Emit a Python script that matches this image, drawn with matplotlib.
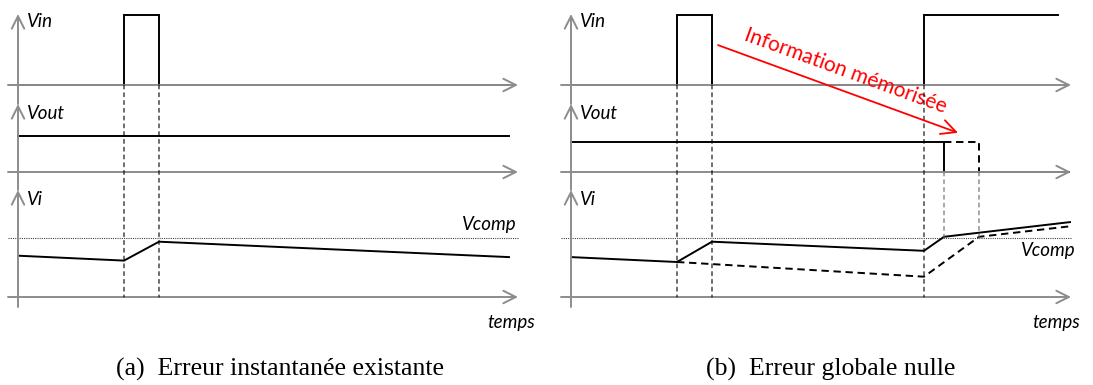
import matplotlib.pyplot as plt
from matplotlib.patches import ConnectionPatch

plt.rcParams["font.family"] = ["Lato", "DejaVu Sans"]

# (a) Erreur instantanée existante
vin_a_t = [0, 10.6, 10.6, 14.1, 14.1, 49.1]
vin_a = [0, 0, 1, 1, 0, 0]
vout_a_t = [0, 49.1]
vout_a = [0.51, 0.51]
vi_a_t = [0, 10.6, 14.1, 49.1]
vi_a = [0.59, 0.52, 0.79, 0.57]
guides_a = [10.6, 14.1]

# (b) Erreur globale nulle
vin_b_t = [0, 10.6, 10.6, 14.1, 14.1, 35.3, 35.3, 48.7]
vin_b = [0, 0, 1, 1, 0, 0, 1, 1]
vout_b_t = [0, 37.3, 37.3, 49.8]
vout_b = [0.43, 0.43, 0, 0]
vout_b_late_t = [37.3, 40.8, 40.8]
vout_b_late = [0.43, 0.43, 0]
vi_b_t = [0, 10.6, 14.1, 35.3, 37.3, 49.9]
vi_b = [0.57, 0.50, 0.79, 0.66, 0.86, 1.07]
vi_b_late_t = [10.6, 35.3, 40.8, 49.9]
vi_b_late = [0.50, 0.29, 0.86, 1.01]
guides_b = [10.6, 14.1, 35.3]
guides_b_vout = [37.3, 40.8]

vcomp = 0.85

# memorised-information arrow: start in the Vin row, end in the Vout row
memo_t = [14.7, 38.7]
memo_v = [0.57, 0.56]

# layout in pixels
FIG_W, FIG_H = 1093, 385
PX_T = 10
PX_V = 70
ORIGINS = [18, 571]
BASES = [85, 172, 297]
TIPS = [14, 104, 190]
AXIS_BOTTOM = 307

GREY = "#8c8c8c"
AXIS_ARROW = "->,head_length=0.6,head_width=0.3"


def row_axes(fig, x0, base):
    ax = fig.add_axes([(x0 - PX_T) / FIG_W, 1 - base / FIG_H,
                       51 * PX_T / FIG_W, PX_V / FIG_H])
    ax.set_xlim(-1, 50)
    ax.set_ylim(0, 1)
    ax.axis("off")
    return ax


def draw_frame(axes):
    for i, ax in enumerate(axes):
        base = BASES[i]
        tail = TIPS[i + 1] if i + 1 < len(TIPS) else AXIS_BOTTOM
        style = dict(arrowstyle=AXIS_ARROW, color=GREY, lw=1.4,
                     shrinkA=0, shrinkB=0, mutation_scale=15)
        ax.annotate("", xy=(50, 0), xytext=(-1, 0), arrowprops=style,
                    annotation_clip=False)
        ax.annotate("", xy=(0, (base - TIPS[i]) / PX_V),
                    xytext=(0, (base - tail) / PX_V), arrowprops=style,
                    annotation_clip=False)


def guide(fig, ax_a, ya, ax_b, yb, t, color="black"):
    con = ConnectionPatch(xyA=(t, ya), coordsA=ax_a.transData,
                          xyB=(t, yb), coordsB=ax_b.transData,
                          color=color, lw=0.8, linestyle=(0, (3.5, 3.5)))
    fig.add_artist(con)


def label(ax, t, v, s, ha="left"):
    ax.text(t, v, s, style="italic", fontsize=13.5, ha=ha, va="center")


fig = plt.figure(figsize=(FIG_W / 100, FIG_H / 100), dpi=100)

panels = []
for x0 in ORIGINS:
    panels.append([row_axes(fig, x0, b) for b in BASES])

sig = dict(color="black", lw=1.4, clip_on=False, solid_joinstyle="miter")
late = dict(color="black", lw=1.4, clip_on=False, linestyle=(0, (3.8, 2.4)))
dotted = dict(color="#444444", lw=0.8, clip_on=False, linestyle=(0, (1, 1)))

# panel (a)
ax_vin, ax_vout, ax_vi = panels[0]
draw_frame(panels[0])
ax_vi.plot([-1, 50], [vcomp, vcomp], **dotted)
ax_vin.plot(vin_a_t, vin_a, **sig)
ax_vout.plot(vout_a_t, vout_a, **sig)
ax_vi.plot(vi_a_t, vi_a, **sig)
for t in guides_a:
    guide(fig, ax_vin, 0, ax_vi, 0, t)
label(ax_vin, 0.9, 0.9, "Vin")
label(ax_vout, 0.9, 0.84, "Vout")
label(ax_vi, 0.9, 1.39, "Vi")
label(ax_vi, 49.9, 1.04, "Vcomp", ha="right")
label(ax_vi, 51.7, -0.37, "temps", ha="right")

# panel (b)
ax_vin, ax_vout, ax_vi = panels[1]
draw_frame(panels[1])
ax_vi.plot([-1, 50], [vcomp, vcomp], **dotted)
ax_vin.plot(vin_b_t, vin_b, **sig)
ax_vout.plot(vout_b_late_t, vout_b_late, **late)
ax_vout.plot(vout_b_t, vout_b, **sig)
ax_vi.plot(vi_b_late_t, vi_b_late, **late)
ax_vi.plot(vi_b_t, vi_b, **sig)
for t in guides_b:
    guide(fig, ax_vin, 0, ax_vi, 0, t)
for t in guides_b_vout:
    guide(fig, ax_vout, 0, ax_vi, vcomp, t, color="#666666")
label(ax_vin, 0.9, 0.9, "Vin")
label(ax_vout, 0.9, 0.83, "Vout")
label(ax_vi, 0.9, 1.39, "Vi")
label(ax_vi, 50.5, 0.67, "Vcomp", ha="right")
label(ax_vi, 50.9, -0.37, "temps", ha="right")

memo = ConnectionPatch(xyA=(memo_t[0], memo_v[0]), coordsA=ax_vin.transData,
                       xyB=(memo_t[1], memo_v[1]), coordsB=ax_vout.transData,
                       arrowstyle="->,head_length=0.7,head_width=0.35",
                       mutation_scale=15, color="red", lw=1.3)
fig.add_artist(memo)
ax_vin.text(27.2, 0.114, "Information mémorisée", color="red", fontsize=15,
            rotation=-20, rotation_mode="anchor", ha="center", va="baseline")

caption = dict(family="Liberation Serif", fontsize=18.5, ha="center",
               va="baseline")
fig.text(280 / FIG_W, 1 - 376 / FIG_H, "(a)  Erreur instantanée existante",
         **caption)
fig.text(831 / FIG_W, 1 - 376 / FIG_H, "(b)  Erreur globale nulle", **caption)

fig.savefig("out.png", dpi=100)
plt.close(fig)
